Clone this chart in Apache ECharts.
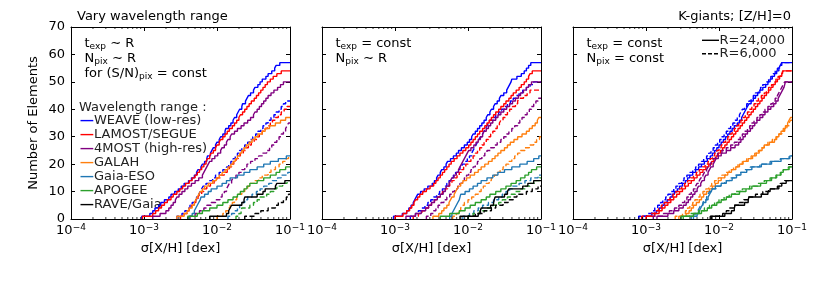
<!DOCTYPE html>
<html><head><meta charset="utf-8">
<script src="https://cdn.jsdelivr.net/npm/echarts@6/dist/echarts.min.js"></script>
<style>html,body{margin:0;padding:0;background:#fff}#c{width:830px;height:283px}</style>
</head><body><div id="c"></div>
<script>
// ---------- labels / ticks ----------
const surveyNames = ['WEAVE (low-res)','LAMOST/SEGUE','4MOST (high-res)','GALAH','Gaia-ESO','APOGEE','RAVE/Gaia'];
const resolutionLabels = ['R=24,000','R=6,000'];
const xTickExponents = [-4,-3,-2,-1];
const yTickValues = [0,10,20,30,40,50,60,70];
const minorMultipliers = [2,3,4,5,6,7,8,9];

// ---------- data: log10 sigma[X/H] at which the cumulative count reaches 1,2,3,... ----------
// Panel 1: vary wavelength range, R=24,000 (solid)
const p1_24k_WEAVE = [-3.03,-2.92,-2.88,-2.85,-2.80,-2.77,-2.72,-2.66,-2.63,-2.58,-2.53,-2.49,-2.45,-2.39,-2.35,-2.31,-2.28,-2.26,-2.22,-2.20,-2.17,-2.14,-2.13,-2.09,-2.07,-2.05,-2.02,-2.00,-1.97,-1.95,-1.92,-1.89,-1.88,-1.84,-1.81,-1.78,-1.76,-1.73,-1.71,-1.69,-1.66,-1.65,-1.61,-1.59,-1.57,-1.54,-1.50,-1.48,-1.44,-1.41,-1.38,-1.33,-1.30,-1.25,-1.21,-1.19,-1.14];
const p1_24k_LAMOST = [-3.02,-2.88,-2.84,-2.80,-2.76,-2.72,-2.68,-2.63,-2.60,-2.55,-2.51,-2.47,-2.43,-2.38,-2.34,-2.30,-2.27,-2.24,-2.21,-2.18,-2.15,-2.13,-2.10,-2.08,-2.05,-2.02,-2.00,-1.97,-1.95,-1.92,-1.89,-1.86,-1.83,-1.79,-1.76,-1.73,-1.70,-1.68,-1.65,-1.62,-1.59,-1.56,-1.53,-1.49,-1.46,-1.43,-1.40,-1.37,-1.34,-1.31,-1.27,-1.23,-1.18,-1.12];
const p1_24k_4MOST = [-2.88,-2.78,-2.70,-2.66,-2.63,-2.60,-2.57,-2.55,-2.52,-2.48,-2.44,-2.40,-2.35,-2.30,-2.25,-2.20,-2.18,-2.16,-2.14,-2.12,-2.10,-2.07,-2.03,-1.99,-1.95,-1.93,-1.90,-1.87,-1.85,-1.82,-1.80,-1.76,-1.72,-1.67,-1.63,-1.58,-1.54,-1.50,-1.48,-1.45,-1.42,-1.39,-1.36,-1.33,-1.30,-1.26,-1.22,-1.17,-1.13,-1.09];
const p1_24k_GALAH = [-2.55,-2.45,-2.41,-2.38,-2.34,-2.31,-2.29,-2.27,-2.25,-2.23,-2.20,-2.17,-2.12,-2.06,-2.01,-1.97,-1.93,-1.89,-1.85,-1.81,-1.78,-1.75,-1.72,-1.69,-1.66,-1.63,-1.60,-1.56,-1.52,-1.48,-1.44,-1.38,-1.34,-1.28,-1.20,-1.13,-1.06];
const p1_24k_GaiaESO = [-2.38,-2.34,-2.31,-2.29,-2.27,-2.25,-2.23,-2.22,-2.17,-2.12,-2.08,-2.00,-1.93,-1.87,-1.82,-1.72,-1.63,-1.55,-1.45,-1.36,-1.27,-1.16,-1.05];
const p1_24k_APOGEE = [-2.40,-2.27,-2.20,-2.10,-2.00,-1.92,-1.85,-1.78,-1.72,-1.68,-1.63,-1.59,-1.55,-1.45,-1.36,-1.27,-1.19,-1.14,-1.06];
const p1_24k_RAVE = [-2.10,-1.87,-1.84,-1.82,-1.80,-1.66,-1.63,-1.62,-1.45,-1.37,-1.34,-1.20,-1.18,-1.07];
// Panel 1, R=6,000 (dashed)
const p1_6k_WEAVE = [-2.55,-2.48,-2.44,-2.40,-2.37,-2.34,-2.31,-2.28,-2.25,-2.23,-2.21,-2.19,-2.15,-2.11,-2.06,-2.02,-1.97,-1.92,-1.87,-1.84,-1.81,-1.78,-1.75,-1.72,-1.69,-1.66,-1.62,-1.58,-1.55,-1.51,-1.47,-1.44,-1.40,-1.37,-1.33,-1.30,-1.26,-1.22,-1.19,-1.15,-1.12,-1.09,-1.06];
const p1_6k_LAMOST = [-2.50,-2.45,-2.41,-2.38,-2.35,-2.32,-2.29,-2.26,-2.24,-2.21,-2.18,-2.14,-2.09,-2.04,-2.00,-1.95,-1.90,-1.86,-1.83,-1.80,-1.77,-1.74,-1.71,-1.68,-1.64,-1.60,-1.57,-1.53,-1.49,-1.45,-1.42,-1.38,-1.34,-1.31,-1.27,-1.24,-1.20,-1.16,-1.12,-1.08,-1.04];
const p1_6k_4MOST = [-2.37,-2.30,-2.24,-2.18,-2.14,-2.08,-2.02,-1.96,-1.93,-1.90,-1.87,-1.85,-1.83,-1.80,-1.78,-1.74,-1.70,-1.66,-1.62,-1.59,-1.54,-1.48,-1.43,-1.38,-1.32,-1.28,-1.25,-1.21,-1.18,-1.15,-1.12,-1.09,-1.06,-1.04,-1.02];
const p1_6k_GALAH = [-2.00,-1.92,-1.88,-1.85,-1.82,-1.79,-1.76,-1.73,-1.71,-1.66,-1.62,-1.58,-1.55,-1.49,-1.43,-1.38,-1.30,-1.26,-1.20,-1.15,-1.10,-1.05,-1.02];
const p1_6k_GaiaESO = [-1.85,-1.80,-1.76,-1.72,-1.69,-1.66,-1.62,-1.58,-1.52,-1.46,-1.41,-1.36,-1.29,-1.24,-1.17,-1.12,-1.03];
const p1_6k_APOGEE = [-1.74,-1.70,-1.67,-1.66,-1.55,-1.50,-1.45,-1.41,-1.32,-1.27,-1.22,-1.18,-1.10,-1.04];
const p1_6k_RAVE = [-1.62,-1.48,-1.40,-1.30,-1.20,-1.16,-1.09,-1.05,-1.02];

// Panel 2: t_exp = const, N_pix ~ R
const p2_24k_WEAVE = [-3.02,-2.90,-2.84,-2.81,-2.78,-2.75,-2.73,-2.71,-2.69,-2.65,-2.60,-2.55,-2.49,-2.46,-2.43,-2.41,-2.38,-2.36,-2.33,-2.30,-2.28,-2.24,-2.20,-2.16,-2.13,-2.09,-2.05,-2.01,-1.98,-1.95,-1.93,-1.90,-1.87,-1.84,-1.81,-1.78,-1.75,-1.73,-1.70,-1.68,-1.65,-1.63,-1.60,-1.57,-1.55,-1.51,-1.47,-1.45,-1.43,-1.41,-1.40,-1.33,-1.27,-1.23,-1.20,-1.17,-1.14];
const p2_24k_LAMOST = [-3.00,-2.89,-2.84,-2.80,-2.77,-2.74,-2.72,-2.69,-2.66,-2.62,-2.57,-2.52,-2.47,-2.44,-2.41,-2.38,-2.35,-2.32,-2.29,-2.26,-2.23,-2.19,-2.15,-2.11,-2.07,-2.03,-1.99,-1.96,-1.93,-1.90,-1.87,-1.84,-1.80,-1.77,-1.74,-1.71,-1.68,-1.65,-1.62,-1.58,-1.55,-1.51,-1.48,-1.44,-1.41,-1.38,-1.34,-1.30,-1.27,-1.23,-1.20,-1.17,-1.15,-1.12];
const p2_24k_4MOST = [-2.85,-2.72,-2.64,-2.58,-2.54,-2.50,-2.46,-2.42,-2.38,-2.34,-2.31,-2.29,-2.26,-2.24,-2.22,-2.19,-2.16,-2.13,-2.11,-2.09,-2.07,-2.05,-2.03,-2.01,-1.99,-1.96,-1.92,-1.89,-1.86,-1.83,-1.80,-1.78,-1.75,-1.72,-1.69,-1.66,-1.62,-1.59,-1.55,-1.51,-1.47,-1.43,-1.39,-1.35,-1.31,-1.28,-1.24,-1.20,-1.17,-1.13];
const p2_24k_GALAH = [-2.48,-2.40,-2.36,-2.33,-2.29,-2.26,-2.24,-2.22,-2.19,-2.17,-2.15,-2.13,-2.10,-2.07,-2.02,-1.97,-1.91,-1.86,-1.82,-1.77,-1.72,-1.67,-1.63,-1.59,-1.55,-1.50,-1.46,-1.42,-1.37,-1.32,-1.26,-1.20,-1.16,-1.12,-1.08,-1.05,-1.03];
const p2_24k_GaiaESO = [-2.25,-2.22,-2.20,-2.18,-2.16,-2.14,-2.12,-2.11,-2.10,-2.04,-1.98,-1.93,-1.87,-1.82,-1.74,-1.66,-1.59,-1.50,-1.40,-1.29,-1.19,-1.10,-1.03];
const p2_24k_APOGEE = [-2.38,-2.25,-2.12,-2.04,-1.97,-1.90,-1.82,-1.75,-1.70,-1.62,-1.55,-1.48,-1.41,-1.34,-1.28,-1.22,-1.17,-1.13,-1.06];
const p2_24k_RAVE = [-2.11,-1.86,-1.83,-1.82,-1.69,-1.65,-1.64,-1.63,-1.50,-1.46,-1.44,-1.25,-1.18,-1.10];
const p2_6k_WEAVE = [-2.79,-2.72,-2.68,-2.64,-2.59,-2.55,-2.51,-2.47,-2.43,-2.39,-2.35,-2.32,-2.29,-2.26,-2.23,-2.20,-2.17,-2.14,-2.11,-2.08,-2.04,-2.01,-1.98,-1.95,-1.93,-1.91,-1.89,-1.87,-1.85,-1.83,-1.80,-1.78,-1.76,-1.74,-1.72,-1.70,-1.66,-1.62,-1.58,-1.54,-1.50,-1.46,-1.42,-1.38,-1.34,-1.30,-1.25,-1.20,-1.15,-1.10];
const p2_6k_LAMOST = [-2.75,-2.68,-2.63,-2.58,-2.54,-2.50,-2.46,-2.42,-2.38,-2.35,-2.31,-2.28,-2.25,-2.22,-2.19,-2.15,-2.12,-2.09,-2.06,-2.03,-2.00,-1.96,-1.93,-1.90,-1.87,-1.84,-1.81,-1.78,-1.75,-1.72,-1.69,-1.66,-1.63,-1.60,-1.57,-1.55,-1.52,-1.49,-1.46,-1.43,-1.39,-1.35,-1.32,-1.30,-1.24,-1.19,-1.15];
const p2_6k_4MOST = [-2.57,-2.51,-2.47,-2.44,-2.41,-2.37,-2.33,-2.29,-2.25,-2.21,-2.18,-2.14,-2.11,-2.08,-2.05,-2.02,-1.99,-1.96,-1.93,-1.90,-1.87,-1.84,-1.81,-1.77,-1.74,-1.69,-1.64,-1.60,-1.55,-1.51,-1.47,-1.44,-1.40,-1.36,-1.32,-1.29,-1.26,-1.23,-1.19,-1.16,-1.13,-1.10,-1.07,-1.04];
const p2_6k_GALAH = [-2.21,-2.16,-2.13,-2.10,-2.08,-2.05,-2.00,-1.95,-1.90,-1.86,-1.82,-1.79,-1.75,-1.71,-1.68,-1.64,-1.60,-1.56,-1.52,-1.48,-1.44,-1.40,-1.36,-1.32,-1.28,-1.22,-1.16,-1.10,-1.06,-1.02];
const p2_6k_GaiaESO = [-2.07,-1.98,-1.92,-1.86,-1.80,-1.72,-1.65,-1.58,-1.53,-1.48,-1.43,-1.39,-1.30,-1.22,-1.14,-1.04];
const p2_6k_APOGEE = [-2.00,-1.93,-1.84,-1.74,-1.66,-1.58,-1.53,-1.46,-1.41,-1.35,-1.29,-1.21,-1.15,-1.08,-1.02];
const p2_6k_RAVE = [-2.00,-1.90,-1.78,-1.68,-1.62,-1.52,-1.45,-1.38,-1.33,-1.20,-1.12,-1.04];

// Panel 3: t_exp = const, N_pix = const
const p3_24k_WEAVE = [-3.05,-2.92,-2.86,-2.82,-2.78,-2.75,-2.71,-2.67,-2.64,-2.61,-2.57,-2.54,-2.50,-2.46,-2.43,-2.40,-2.36,-2.32,-2.28,-2.24,-2.20,-2.16,-2.12,-2.09,-2.06,-2.03,-2.00,-1.97,-1.94,-1.91,-1.88,-1.85,-1.82,-1.79,-1.75,-1.72,-1.69,-1.67,-1.65,-1.63,-1.61,-1.59,-1.56,-1.53,-1.50,-1.47,-1.44,-1.40,-1.36,-1.33,-1.30,-1.27,-1.24,-1.21,-1.18,-1.16,-1.14];
const p3_24k_LAMOST = [-3.00,-2.88,-2.82,-2.78,-2.74,-2.70,-2.66,-2.62,-2.58,-2.54,-2.50,-2.46,-2.42,-2.38,-2.34,-2.30,-2.26,-2.22,-2.18,-2.14,-2.10,-2.07,-2.04,-2.01,-1.98,-1.95,-1.92,-1.89,-1.86,-1.83,-1.80,-1.77,-1.74,-1.71,-1.68,-1.65,-1.62,-1.59,-1.56,-1.53,-1.50,-1.47,-1.44,-1.41,-1.38,-1.35,-1.32,-1.29,-1.26,-1.23,-1.20,-1.17,-1.14,-1.12];
const p3_24k_4MOST = [-2.85,-2.70,-2.62,-2.55,-2.49,-2.45,-2.42,-2.39,-2.36,-2.33,-2.30,-2.28,-2.25,-2.23,-2.20,-2.18,-2.15,-2.13,-2.11,-2.08,-2.06,-2.04,-2.01,-1.97,-1.90,-1.84,-1.78,-1.73,-1.70,-1.67,-1.64,-1.61,-1.57,-1.54,-1.51,-1.48,-1.44,-1.40,-1.37,-1.33,-1.29,-1.25,-1.22,-1.19,-1.17,-1.15,-1.13,-1.11,-1.10,-1.09];
const p3_24k_GALAH = [-2.55,-2.45,-2.41,-2.38,-2.35,-2.31,-2.27,-2.24,-2.21,-2.17,-2.13,-2.09,-2.05,-2.01,-1.97,-1.92,-1.88,-1.83,-1.77,-1.72,-1.67,-1.60,-1.54,-1.49,-1.45,-1.41,-1.38,-1.31,-1.24,-1.21,-1.18,-1.15,-1.12,-1.09,-1.06,-1.04,-1.02];
const p3_24k_GaiaESO = [-2.35,-2.30,-2.27,-2.25,-2.23,-2.21,-2.18,-2.15,-2.13,-2.11,-2.09,-2.05,-1.97,-1.90,-1.82,-1.76,-1.70,-1.62,-1.55,-1.42,-1.28,-1.15,-1.03];
const p3_24k_APOGEE = [-2.49,-2.35,-2.24,-2.16,-2.10,-2.03,-1.97,-1.90,-1.83,-1.72,-1.63,-1.55,-1.43,-1.35,-1.28,-1.21,-1.15,-1.12,-1.04];
const p3_24k_RAVE = [-2.10,-1.92,-1.83,-1.79,-1.78,-1.65,-1.60,-1.59,-1.42,-1.33,-1.30,-1.18,-1.14,-1.08];
const p3_6k_WEAVE = [-3.10,-2.98,-2.92,-2.88,-2.84,-2.80,-2.77,-2.73,-2.70,-2.66,-2.62,-2.59,-2.55,-2.51,-2.48,-2.44,-2.40,-2.36,-2.32,-2.28,-2.24,-2.21,-2.17,-2.14,-2.11,-2.08,-2.05,-2.02,-1.99,-1.96,-1.93,-1.90,-1.87,-1.84,-1.81,-1.78,-1.75,-1.72,-1.70,-1.68,-1.65,-1.62,-1.59,-1.56,-1.53,-1.50,-1.46,-1.43,-1.40,-1.36,-1.32,-1.29,-1.26,-1.23,-1.20,-1.17,-1.14];
const p3_6k_LAMOST = [-3.06,-2.94,-2.88,-2.83,-2.79,-2.75,-2.71,-2.67,-2.63,-2.59,-2.55,-2.51,-2.47,-2.43,-2.39,-2.35,-2.31,-2.27,-2.23,-2.19,-2.15,-2.12,-2.09,-2.06,-2.03,-2.00,-1.97,-1.94,-1.91,-1.88,-1.85,-1.82,-1.79,-1.76,-1.73,-1.70,-1.67,-1.64,-1.61,-1.58,-1.55,-1.52,-1.49,-1.46,-1.42,-1.38,-1.35,-1.32,-1.28,-1.25,-1.22,-1.19,-1.16,-1.13];
const p3_6k_4MOST = [-2.90,-2.76,-2.68,-2.61,-2.55,-2.50,-2.47,-2.44,-2.41,-2.38,-2.35,-2.32,-2.30,-2.27,-2.25,-2.22,-2.20,-2.17,-2.15,-2.12,-2.10,-2.08,-2.05,-2.02,-1.96,-1.90,-1.84,-1.79,-1.75,-1.71,-1.68,-1.65,-1.61,-1.58,-1.55,-1.52,-1.48,-1.44,-1.41,-1.37,-1.33,-1.29,-1.26,-1.23,-1.20,-1.18,-1.16,-1.14,-1.12,-1.10];
const p3_6k_GALAH = [-2.60,-2.50,-2.46,-2.43,-2.40,-2.36,-2.33,-2.29,-2.26,-2.22,-2.18,-2.14,-2.10,-2.06,-2.01,-1.96,-1.91,-1.86,-1.80,-1.74,-1.68,-1.62,-1.56,-1.51,-1.46,-1.42,-1.38,-1.33,-1.27,-1.22,-1.18,-1.14,-1.10,-1.07,-1.04,-1.02];
const p3_6k_GaiaESO = [-2.38,-2.33,-2.29,-2.27,-2.25,-2.22,-2.20,-2.17,-2.15,-2.13,-2.10,-2.04,-1.98,-1.92,-1.85,-1.78,-1.72,-1.65,-1.57,-1.44,-1.30,-1.16,-1.04];
const p3_6k_APOGEE = [-2.52,-2.40,-2.28,-2.20,-2.13,-2.06,-2.00,-1.93,-1.86,-1.78,-1.68,-1.58,-1.47,-1.38,-1.30,-1.22,-1.16,-1.12,-1.05];
const p3_6k_RAVE = [-2.12,-1.95,-1.90,-1.86,-1.80,-1.72,-1.66,-1.60,-1.50,-1.40,-1.32,-1.20,-1.16,-1.10];

// ---------- assemble ----------
const panelCurves = [
  [[p1_24k_WEAVE,p1_6k_WEAVE],[p1_24k_LAMOST,p1_6k_LAMOST],[p1_24k_4MOST,p1_6k_4MOST],[p1_24k_GALAH,p1_6k_GALAH],[p1_24k_GaiaESO,p1_6k_GaiaESO],[p1_24k_APOGEE,p1_6k_APOGEE],[p1_24k_RAVE,p1_6k_RAVE]],
  [[p2_24k_WEAVE,p2_6k_WEAVE],[p2_24k_LAMOST,p2_6k_LAMOST],[p2_24k_4MOST,p2_6k_4MOST],[p2_24k_GALAH,p2_6k_GALAH],[p2_24k_GaiaESO,p2_6k_GaiaESO],[p2_24k_APOGEE,p2_6k_APOGEE],[p2_24k_RAVE,p2_6k_RAVE]],
  [[p3_24k_WEAVE,p3_6k_WEAVE],[p3_24k_LAMOST,p3_6k_LAMOST],[p3_24k_4MOST,p3_6k_4MOST],[p3_24k_GALAH,p3_6k_GALAH],[p3_24k_GaiaESO,p3_6k_GaiaESO],[p3_24k_APOGEE,p3_6k_APOGEE],[p3_24k_RAVE,p3_6k_RAVE]]
];

const colors = ['#0000ff','#ff0000','#800080','#ff7f0e','#1f77b4','#2ca02c','#000000'];
const FONT = 'DejaVu Sans';
const xMin = Math.pow(10, xTickExponents[0]);
const xMax = Math.pow(10, xTickExponents[xTickExponents.length - 1]);
const yMax = yTickValues[yTickValues.length - 1];
const gridLefts = [71, 322, 573];
const GW = 219, GT = 27, GH = 192;
const LW = 1.4, DASH = [5, 2.5];

function toSteps(logs) {
  const pts = [[Math.pow(10, logs[0]), 0]];
  logs.forEach((v, i) => pts.push([Math.pow(10, v), i + 1]));
  pts.push([xMax, logs.length]);
  return pts;
}
const minorTicks = [];
xTickExponents.slice(0, -1).forEach(e => minorMultipliers.forEach(m => minorTicks.push(m * Math.pow(10, e))));

const grids = [], xAxes = [], yAxes = [], series = [];
const axisLine = {show: true, onZero: false, lineStyle: {color: '#000', width: 1}};
gridLefts.forEach((left, p) => {
  grids.push({left: left, top: GT, width: GW, height: GH, containLabel: false});
  const xBase = {type: 'log', logBase: 10, min: xMin, max: xMax, gridIndex: p, axisLine: axisLine,
    axisTick: {show: true, inside: true, length: 4, lineStyle: {color: '#000', width: 1}}, splitLine: {show: false}};
  xAxes.push(Object.assign({}, xBase, {position: 'bottom',
    name: 'σ[X/H] [dex]', nameLocation: 'middle', nameGap: 23,
    nameTextStyle: {fontFamily: FONT, fontSize: 13, color: '#000'},
    axisLabel: {show: true, margin: 4, color: '#000', fontFamily: FONT,
      formatter: v => { const e = Math.round(Math.log10(v)); return '{b|10}{p|' + (e < 0 ? '−' : '') + Math.abs(e) + '}'; },
      rich: {b: {fontSize: 13, lineHeight: 15, fontFamily: FONT, color: '#000'},
             p: {fontSize: 9, lineHeight: 7, verticalAlign: 'top', fontFamily: FONT, color: '#000'}}}}));
  xAxes.push(Object.assign({}, xBase, {position: 'top', axisLabel: {show: false}}));
  const yBase = {type: 'value', min: yTickValues[0], max: yMax, interval: yTickValues[1] - yTickValues[0], gridIndex: p,
    axisLine: axisLine, axisTick: {show: true, inside: true, length: 4, lineStyle: {color: '#000', width: 1}},
    splitLine: {show: false}};
  yAxes.push(Object.assign({}, yBase, {position: 'left',
    name: p === 0 ? 'Number of Elements' : '', nameLocation: 'middle', nameGap: 31, nameRotate: 90,
    nameTextStyle: {fontFamily: FONT, fontSize: 13, color: '#000'},
    axisLabel: {show: p === 0, margin: 6, fontFamily: FONT, fontSize: 13, color: '#000'}}));
  yAxes.push(Object.assign({}, yBase, {position: 'right', axisLabel: {show: false}}));

  panelCurves[p].forEach((pair, s) => pair.forEach((logs, r) => {
    series.push({type: 'line', name: surveyNames[s] + ' ' + resolutionLabels[r],
      xAxisIndex: 2 * p, yAxisIndex: 2 * p, step: 'end', symbol: 'none', silent: true, animation: false,
      data: toSteps(logs), z: 3,
      lineStyle: {color: colors[s], width: LW, type: r === 0 ? 'solid' : DASH}});
  }));
  series.push({type: 'custom', xAxisIndex: 2 * p, yAxisIndex: 2 * p, silent: true, animation: false, z: 5,
    data: minorTicks.map(v => [v, 0]),
    renderItem: (params, api) => {
      const v = api.value(0);
      const b = api.coord([v, 0]), t = api.coord([v, yMax]);
      const st = {stroke: '#000', lineWidth: 0.8};
      return {type: 'group', children: [
        {type: 'line', shape: {x1: b[0], y1: b[1], x2: b[0], y2: b[1] - 2}, style: st},
        {type: 'line', shape: {x1: t[0], y1: t[1], x2: t[0], y2: t[1] + 2}, style: st}]};
    }});
});

// ---------- annotation texts ----------
const richSub = {
  m: {fontSize: 13, lineHeight: 15, fontFamily: FONT, color: '#000'},
  s: {fontSize: 9, lineHeight: 7, verticalAlign: 'bottom', fontFamily: FONT, color: '#000'}
};
const annotations = [
  '{m|t}{s|exp}{m| ∼ R}\n{m|N}{s|pix}{m| ∼ R}\n{m|for (S/N)}{s|pix}{m| = const}',
  '{m|t}{s|exp}{m| = const}\n{m|N}{s|pix}{m| ∼ R}',
  '{m|t}{s|exp}{m| = const}\n{m|N}{s|pix}{m| = const}'
];
const graphics = [];
annotations.forEach((txt, p) => graphics.push({type: 'text', x: gridLefts[p] + 13.5, y: 36.3, silent: true,
  style: {text: txt, rich: richSub, textVerticalAlign: 'top', textAlign: 'left'}}));
graphics.push({type: 'text', x: 77, y: 17, silent: true,
  style: {text: 'Vary wavelength range', fontFamily: FONT, fontSize: 13, fill: '#000', textVerticalAlign: 'middle'}});
graphics.push({type: 'text', x: gridLefts[2] + GW - 1, y: 17, silent: true,
  style: {text: 'K-giants; [Z/H]=0', fontFamily: FONT, fontSize: 13, fill: '#000', textAlign: 'right', textVerticalAlign: 'middle'}});
// survey legend (panel 1)
graphics.push({type: 'text', x: 79, y: 107.2, silent: true,
  style: {text: 'Wavelength range :', fontFamily: FONT, fontSize: 13, fill: '#222', textVerticalAlign: 'middle'}});
surveyNames.forEach((nm, i) => {
  const yy = 120.6 + 14 * i;
  graphics.push({type: 'line', silent: true, shape: {x1: 80.5, y1: yy, x2: 93.3, y2: yy}, style: {stroke: colors[i], lineWidth: LW}});
  graphics.push({type: 'text', x: 94, y: yy, silent: true,
    style: {text: nm, fontFamily: FONT, fontSize: 13, fill: '#222', textVerticalAlign: 'middle'}});
});
// resolution legend (panel 3)
resolutionLabels.forEach((nm, r) => {
  const yy = 40.3 + 13.4 * r;
  graphics.push({type: 'line', silent: true, shape: {x1: 702, y1: yy, x2: 719, y2: yy},
    style: {stroke: '#000', lineWidth: LW, lineDash: r === 0 ? null : [4, 2]}});
  graphics.push({type: 'text', x: 719.5, y: yy + 0.3, silent: true,
    style: {text: nm, fontFamily: FONT, fontSize: 13, fill: '#222', textVerticalAlign: 'middle'}});
});

const chart = echarts.init(document.getElementById('c'), null, {renderer: 'canvas'});
chart.setOption({
  animation: false,
  backgroundColor: '#fff',
  textStyle: {fontFamily: FONT},
  grid: grids, xAxis: xAxes, yAxis: yAxes, series: series,
  graphic: {elements: graphics}
});
</script></body></html>
